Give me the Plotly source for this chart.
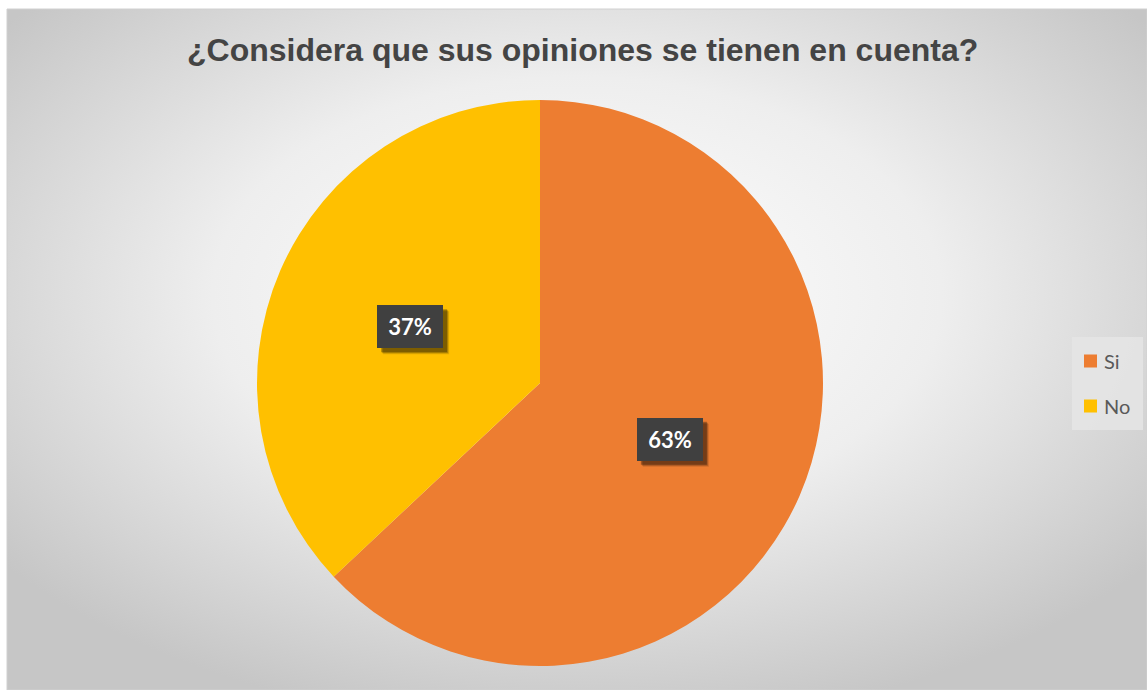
import math
import base64
import plotly.graph_objects as go

labels = ["Si", "No"]
values = [63, 37]
colors = ["#ED7D31", "#FFC000"]
title_text = "¿Considera que sus opiniones se tienen en cuenta?"

W, H = 1147, 690
cx, cy, R = 540, 383, 283

svg = """<svg xmlns='http://www.w3.org/2000/svg' width='1140' height='681' viewBox='0 0 1140 681'>
<defs><radialGradient id='g' cx='50%' cy='42%' r='64%'>
<stop offset='0%' stop-color='#ffffff'/><stop offset='50%' stop-color='#eeeeee'/>
<stop offset='100%' stop-color='#c6c6c6'/></radialGradient></defs>
<rect width='1140' height='681' fill='url(#g)'/></svg>"""
src = "data:image/svg+xml;base64," + base64.b64encode(svg.encode()).decode()

fig = go.Figure()
fig.add_trace(go.Pie(
    labels=labels, values=values, sort=False, direction="clockwise", rotation=0,
    marker=dict(colors=colors, line=dict(width=0)),
    textinfo="none", hoverinfo="label+percent",
    domain=dict(x=[(cx - R) / W, (cx + R) / W], y=[1 - (cy + R) / H, 1 - (cy - R) / H]),
    showlegend=False,
))

annotations = []
shapes = [dict(type="rect", xref="paper", yref="paper", x0=7 / W, x1=1, y0=0, y1=1 - 9 / H,
               line=dict(color="#d0d0d0", width=1), layer="below")]

total = sum(values)
cum = 0
bw, bh, pad = 48, 25, 9
for v in values:
    mid = (cum + v / 2) / total * 2 * math.pi
    cum += v
    px = cx + 0.5 * R * math.sin(mid)
    py = cy - 0.5 * R * math.cos(mid)
    txt = f"{round(v / total * 100)}%"
    hw, hh = bw / 2 + pad, bh / 2 + pad
    for off, alpha in ((6, 0.12), (5, 0.2), (4, 0.3)):
        shapes.append(dict(type="rect", xref="paper", yref="paper", layer="above",
                           x0=(px - hw + off) / W, x1=(px + hw + off) / W,
                           y0=1 - (py + hh + off) / H, y1=1 - (py - hh + off) / H,
                           fillcolor=f"rgba(0,0,0,{alpha})", line=dict(width=0)))
    annotations.append(dict(x=px / W, y=1 - py / H, xref="paper", yref="paper", showarrow=False,
                            text=f"<b>{txt}</b>", borderpad=pad, borderwidth=0,
                            width=bw, height=bh, align="center", valign="middle",
                            xanchor="center", yanchor="middle", bgcolor="#404040",
                            font=dict(family="Lato", size=22, color="#ffffff")))

annotations.append(dict(x=582 / W, y=1 - 50 / H, xref="paper", yref="paper", showarrow=False,
                        text=f"<b>{title_text}</b>",
                        font=dict(family="Liberation Sans", size=32, color="#444444"),
                        xanchor="center", yanchor="middle"))

# manual legend
shapes.append(dict(type="rect", xref="paper", yref="paper", layer="above",
                   x0=1072 / W, x1=1143 / W, y0=1 - 430 / H, y1=1 - 337 / H,
                   fillcolor="rgba(228,228,228,0.9)", line=dict(width=0)))
for i, (lab, col) in enumerate(zip(labels, colors)):
    yc = 361 + 45 * i
    shapes.append(dict(type="rect", xref="paper", yref="paper", layer="above",
                       x0=1084 / W, x1=1097 / W, y0=1 - (yc + 6.5) / H, y1=1 - (yc - 6.5) / H,
                       fillcolor=col, line=dict(width=0)))
    annotations.append(dict(x=1102 / W, y=1 - yc / H, xref="paper", yref="paper", showarrow=False,
                            text=lab, xanchor="left", yanchor="middle",
                            font=dict(family="Lato", size=20, color="#595959")))

fig.update_layout(
    width=W, height=H, margin=dict(l=0, r=0, t=0, b=0),
    paper_bgcolor="#ffffff", plot_bgcolor="rgba(0,0,0,0)",
    images=[dict(source=src, xref="paper", yref="paper", x=7 / W, y=1 - 9 / H,
                 sizex=1 - 7 / W, sizey=1 - 9 / H, xanchor="left", yanchor="top",
                 sizing="stretch", layer="below")],
    shapes=shapes,
    annotations=annotations,
    showlegend=False,
)

fig.write_html("out.html")
